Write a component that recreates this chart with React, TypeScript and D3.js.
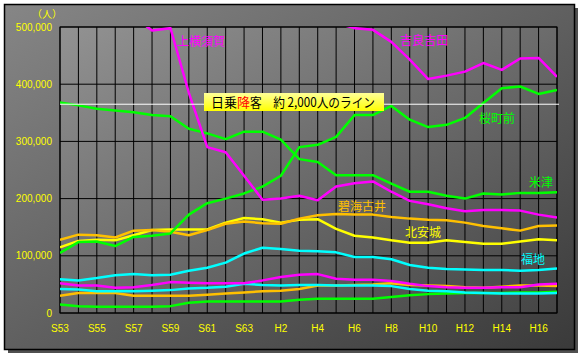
import React from "react";
import * as d3 from "d3";

const years = ["S53","S54","S55","S56","S57","S58","S59","S60","S61","S62","S63","H1","H2","H3","H4","H5","H6","H7","H8","H9","H10","H11","H12","H13","H14","H15","H16","H17"];
const tickYears = ["S53","S55","S57","S59","S61","S63","H2","H4","H6","H8","H10","H12","H14","H16"];
const yTicks = [0, 100000, 200000, 300000, 400000, 500000];

const kamiyokosuka = [545,540,535,528,518,494,498,385,290,281,240,198,200,205,197,221,227,230,212,196,190,183,178,180,180,179,172,167];
const kirayoshida = [560,555,550,545,540,540,535,530,530,525,525,520,520,515,512,507,498,495,474,443,409,415,422,437,425,445,446,413];
const sakuramachimae = [105,124,125,117,133,135,139,172,192,200,209,221,240,290,294,308,346,346,362,338,325,329,341,367,393,396,383,390];
const yonezu = [368,363,357,354,351,346,344,322,314,304,317,317,303,269,264,241,241,241,226,212,212,205,200,209,207,210,210,211];
const hekikaifurui = [128,137,136,132,144,145,142,136,145,156,160,157,156,165,171,173,172,172,168,165,163,162,158,152,148,144,152,153];
const kitaanjo = [115,126,128,127,136,145,146,146,146,158,166,164,158,163,164,147,135,132,127,123,123,127,124,121,121,125,129,127];
const fukuchi = [59,57,61,66,68,66,67,74,79,88,104,114,112,109,108,106,98,98,94,84,79,77,76,75,75,74,75,78];
const magentaLow = [52,48,48,44,45,49,54,53,52,52,52,57,63,67,68,60,58,58,56,51,47,45,44,44,45,45,50,51];
const cyanLow = [42,41,38,38,38,39,40,43,44,46,51,49,48,49,49,48,48,48,47,42,39,38,36,35,34,34,34,35];
const orangeLow = [30,35,35,35,30,30,30,30,32,34,36,38,39,42,48,48,49,50,52,49,48,47,45,44,46,48,48,47];
const greenLow = [15,12,11,11,11,11,12,18,20,20,20,20,20,23,25,25,25,25,28,31,33,34,35,35,35,36,36,37];

const lineValue = 365000;

const MAGENTA = "#ff00ff";
const GREEN = "#00ff00";
const YELLOW = "#ffff00";
const ORANGE = "#ffc000";
const CYAN = "#00ffff";

const series = [
  { name: "greenLow", data: greenLow, color: GREEN },
  { name: "orangeLow", data: orangeLow, color: ORANGE },
  { name: "cyanLow", data: cyanLow, color: CYAN },
  { name: "magentaLow", data: magentaLow, color: MAGENTA },
  { name: "福地", data: fukuchi, color: CYAN },
  { name: "北安城", data: kitaanjo, color: YELLOW },
  { name: "碧海古井", data: hekikaifurui, color: ORANGE },
  { name: "米津", data: yonezu, color: GREEN },
  { name: "桜町前", data: sakuramachimae, color: GREEN },
  { name: "吉良吉田", data: kirayoshida, color: MAGENTA },
  { name: "上横須賀", data: kamiyokosuka, color: MAGENTA },
];

const labels = [
  { text: "上横須賀", x: 177, y: 46, color: MAGENTA },
  { text: "吉良吉田", x: 400, y: 45, color: MAGENTA },
  { text: "桜町前", x: 479, y: 123, color: GREEN },
  { text: "米津", x: 529, y: 187, color: GREEN },
  { text: "碧海古井", x: 338, y: 211, color: ORANGE },
  { text: "北安城", x: 405, y: 237, color: YELLOW },
  { text: "福地", x: 521, y: 264, color: CYAN },
];

export default function App() {
  const W = 581, H = 355;
  const left = 60, right = 557, top = 27, bottom = 313;
  const x = d3.scaleLinear().domain([0, years.length - 1]).range([left, right]);
  const y = d3.scaleLinear().domain([0, 500000]).range([bottom, top]);
  const line = d3.line<number>().x((_, i) => x(i)).y((d) => y(d * 1000));
  const fmt = d3.format(",");
  const jp = "'Noto Sans CJK JP', sans-serif";

  return (
    <div style={{ position: "absolute", left: 0, top: 0 }}>
      <svg width={W} height={H} style={{ display: "block" }}>
        <defs>
          <linearGradient id="outerG" x1="0" y1="0" x2="1" y2="1">
            <stop offset="0%" stopColor="#868686" />
            <stop offset="100%" stopColor="#3a3a3a" />
          </linearGradient>
          <linearGradient id="plotG" x1="0" y1="0" x2="1" y2="1">
            <stop offset="0%" stopColor="#929292" />
            <stop offset="100%" stopColor="#454545" />
          </linearGradient>
          <linearGradient id="boxG" x1="0" y1="0" x2="0" y2="1">
            <stop offset="0%" stopColor="#ffff99" />
            <stop offset="100%" stopColor="#ffff00" />
          </linearGradient>
          <clipPath id="plotClip">
            <rect x={left} y={top} width={right - left} height={bottom - top} />
          </clipPath>
        </defs>
        <rect x={0} y={0} width={W} height={H} fill="#ffffff" />
        <rect x={8} y={8} width={570} height={345} fill="#505050" />
        <rect x={4.5} y={4.5} width={570} height={345} fill="url(#outerG)" stroke="#000" strokeWidth={1.5} />
        <rect x={left} y={top} width={right - left} height={bottom - top} fill="url(#plotG)" />
        {years.map((_, i) => (
          <line key={"v" + i} x1={x(i)} x2={x(i)} y1={top} y2={bottom} stroke="#000" strokeWidth={1} />
        ))}
        {yTicks.map((t) => (
          <line key={"h" + t} x1={left} x2={right} y1={y(t)} y2={y(t)} stroke="#000" strokeWidth={1} />
        ))}
        <rect x={left} y={top} width={right - left} height={bottom - top} fill="none" stroke="#000" strokeWidth={1} />
        {yTicks.map((t) => (
          <text key={"yt" + t} x={52} y={y(t) + 3.5} textAnchor="end" fill={YELLOW} fontSize={10} fontFamily="'Liberation Sans', Arial, sans-serif">
            {fmt(t)}
          </text>
        ))}
        <text x={47} y={18} textAnchor="middle" fill={YELLOW} fontSize={10} fontFamily={jp}>（人）</text>
        {tickYears.map((t) => (
          <text key={"xt" + t} x={x(years.indexOf(t))} y={332} textAnchor="middle" fill={YELLOW} fontSize={10} fontFamily="'Liberation Sans', Arial, sans-serif">
            {t}
          </text>
        ))}
        <g clipPath="url(#plotClip)">
          {series.map((s) => (
            <path key={s.name} d={line(s.data) || ""} fill="none" stroke={s.color} strokeWidth={2.5} strokeLinejoin="round" />
          ))}
        </g>
        <line x1={left} x2={559} y1={y(lineValue)} y2={y(lineValue)} stroke="#ffffff" strokeWidth={1} />
        <rect x={204} y={93} width={180} height={18} fill="url(#boxG)" />
        <text x={211} y={107} fill="#000" fontSize={13} fontFamily={jp}>日乗</text>
        <text x={237} y={107} fill="#ff0000" fontSize={13} fontFamily={jp}>降</text>
        <text x={250} y={107} fill="#000" fontSize={13} fontFamily={jp} textLength={125} lengthAdjust="spacingAndGlyphs">客　約 2,000人のライン</text>
        {labels.map((l) => (
          <text key={l.text} x={l.x} y={l.y} fill={l.color} fontSize={12} fontFamily={jp}>{l.text}</text>
        ))}
      </svg>
    </div>
  );
}
